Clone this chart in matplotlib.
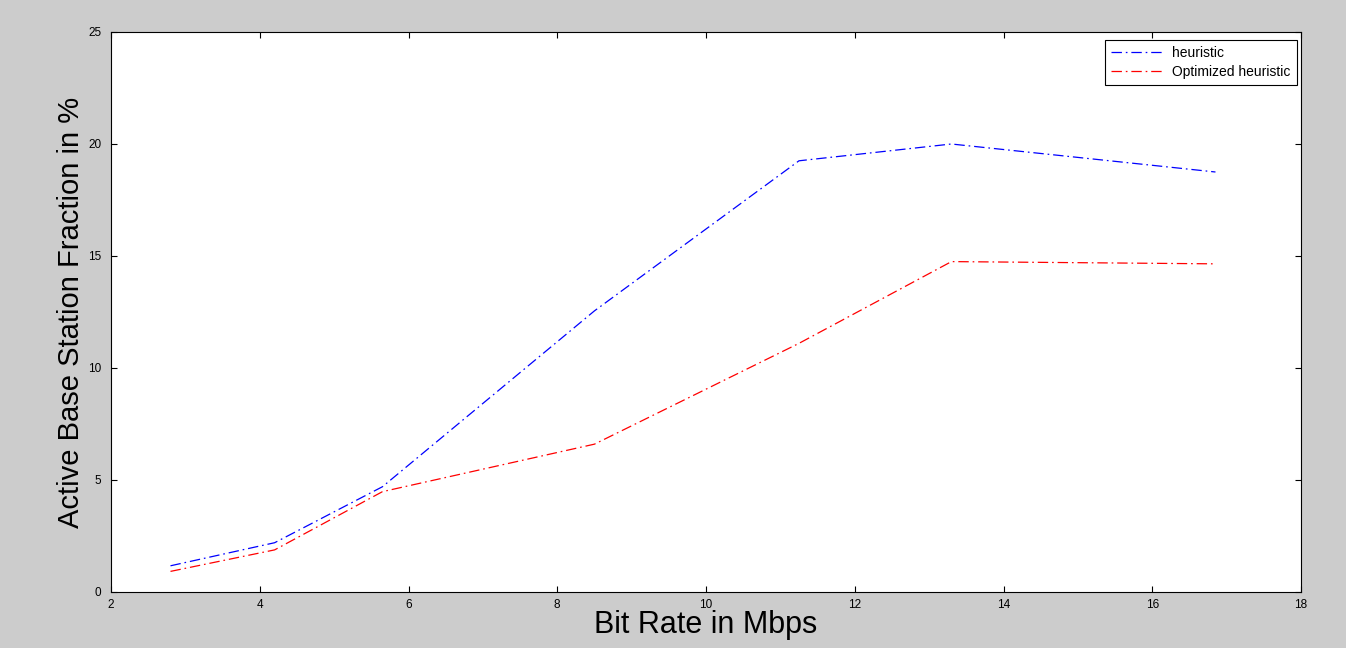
import matplotlib
matplotlib.use("Agg")
import matplotlib.pyplot as plt

plt.rcParams['font.family'] = ['Liberation Sans', 'DejaVu Sans']
plt.rcParams['lines.scale_dashes'] = False

# Data
bit_rate = [2.8, 4.2, 5.65, 8.5, 11.25, 13.3, 16.85]
heuristic = [1.17, 2.2, 4.7, 12.55, 19.25, 20.0, 18.75]
optimized = [0.92, 1.88, 4.48, 6.6, 11.1, 14.75, 14.65]

series_labels = ["heuristic", "Optimized heuristic"]
x_ticks = [2, 4, 6, 8, 10, 12, 14, 16, 18]
y_ticks = [0, 5, 10, 15, 20, 25]

fig = plt.figure(figsize=(13.46, 6.48), dpi=100, facecolor='#cccccc')
ax = fig.add_axes([111/1346, 1 - 592/648, 1190/1346, 560/648])
ax.set_facecolor('white')

dash = (0, (7.5, 2.8, 1.2, 2.8))
ax.plot(bit_rate, heuristic, color='#0000ff', lw=0.9, linestyle=dash, label=series_labels[0])
ax.plot(bit_rate, optimized, color='#ff0000', lw=0.9, linestyle=dash, label=series_labels[1])

ax.set_xlim(2, 18)
ax.set_ylim(0, 25)
ax.set_xticks(x_ticks)
ax.set_yticks(y_ticks)
ax.tick_params(direction='in', length=4, width=0.8, top=True, right=True,
               labelsize=8.5, colors='black')
ax.tick_params(axis='y', pad=7)
ax.tick_params(axis='x', pad=5)
for s in ax.spines.values():
    s.set_linewidth(0.8)
    s.set_color('black')

ax.set_xlabel("Bit Rate in Mbps", fontsize=22, labelpad=-1)
ax.set_ylabel("Active Base Station Fraction in %", fontsize=21, labelpad=2)

leg = ax.legend(loc='upper right', bbox_to_anchor=((1297-111)/1190, (592-40)/560),
                borderaxespad=0, fancybox=False, framealpha=1, edgecolor='black',
                fontsize=10, handlelength=3.9, handletextpad=0.5, borderpad=0.45,
                labelspacing=0.35)
leg.get_frame().set_linewidth(0.8)

fig.savefig("out.png", dpi=100, facecolor=fig.get_facecolor())
